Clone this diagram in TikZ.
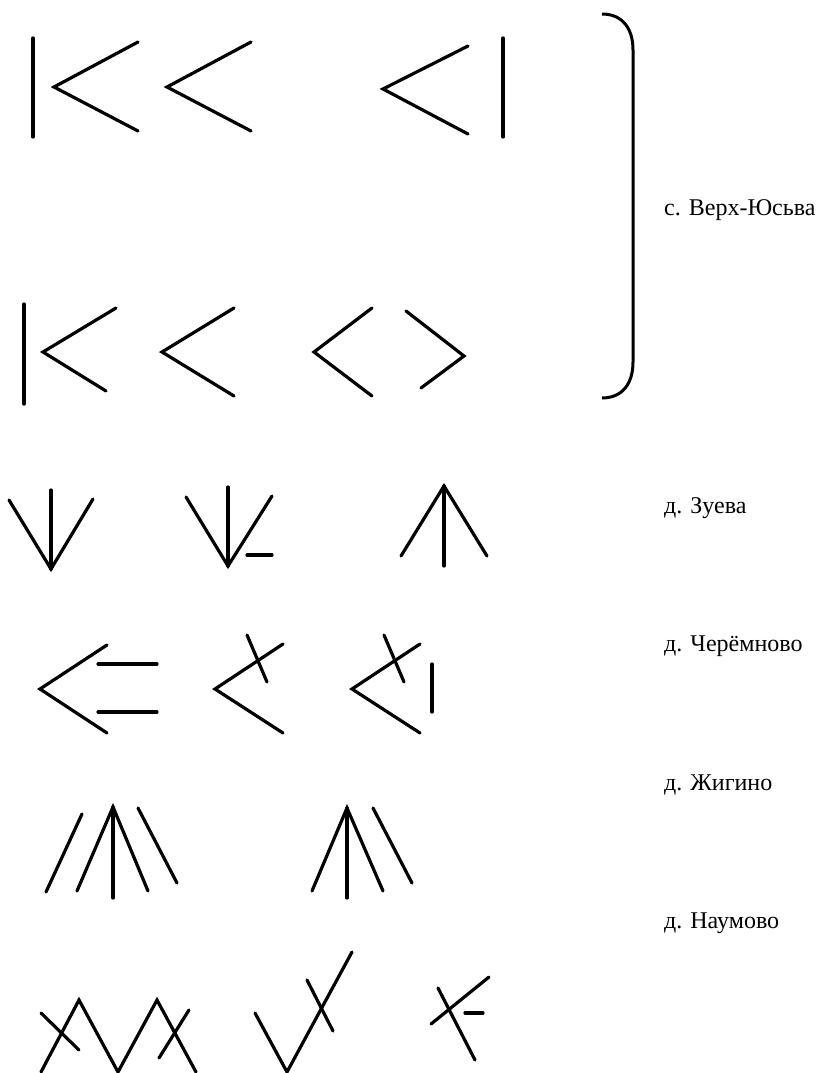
\documentclass[tikz,border=0pt]{standalone}
\usepackage{fontspec}
\setmainfont{Liberation Serif}
\begin{document}
\begin{tikzpicture}[x=1pt,y=-1pt,
  sign/.style={line width=3.2pt,line cap=round,line join=miter},
  place/.style={anchor=base west,inner sep=0pt,font=\fontsize{24}{28}\selectfont}]
\useasboundingbox (0,0) rectangle (816,1073);

% --- с. Верх-Юсьва, upper row
\draw[sign] (33,38) -- (33,137);
\draw[sign] (138,42) -- (54,87) -- (138,131);
\draw[sign] (251,42) -- (167,87) -- (251,131);
\draw[sign] (468,46) -- (383,89) -- (468,134);
\draw[sign] (503,38) -- (503,137);

% --- с. Верх-Юсьва, lower row
\draw[sign] (24,304) -- (24,404);
\draw[sign] (116,308) -- (43,352) -- (106,391);
\draw[sign] (234,308) -- (162,352) -- (234,396);
\draw[sign] (372,308) -- (314,352) -- (372,396);
\draw[sign] (406,311) -- (464,356) -- (421,388);

% brace grouping both rows
\draw[line width=3pt] (602,14) .. controls (622,14) and (633,28) .. (633,50)
  -- (633,362) .. controls (633,384) and (622,398) .. (602,398);
\node[place] (verkh) at (664,215) {с. Верх-Юсьва};

% --- д. Зуева
\draw[sign] (9,500) -- (51,569) -- (93,499);
\draw[sign] (51,490) -- (51,569);
\draw[sign] (186,497) -- (228,566) -- (272,496);
\draw[sign] (228,487) -- (228,566);
\draw[sign] (247,555) -- (272,555);
\draw[sign] (401,556) -- (444,486) -- (487,556);
\draw[sign] (444,486) -- (444,566);
\node[place] (zueva) at (664,513) {д. Зуева};

% --- д. Черёмново
\draw[sign] (107,645) -- (40,689) -- (107,733);
\draw[sign] (98,664) -- (157,664);
\draw[sign] (98,712) -- (157,712);
\draw[sign] (283,644) -- (215,689) -- (283,733);
\draw[sign] (247,635) -- (267,682);
\draw[sign] (420,644) -- (352,689) -- (420,733);
\draw[sign] (384,635) -- (404,682);
\draw[sign] (432,664) -- (432,712);
\node[place] (cheremnovo) at (664,651) {д. Черёмново};

% --- д. Жигино
\draw[sign] (82,814) -- (46,892);
\draw[sign] (77,891) -- (113,807) -- (148,891);
\draw[sign] (113,807) -- (113,898);
\draw[sign] (138,808) -- (177,883);
\draw[sign] (312,891) -- (347,808) -- (383,891);
\draw[sign] (347,808) -- (347,898);
\draw[sign] (373,808) -- (412,883);
\node[place] (zhigino) at (664,790) {д. Жигино};

% --- д. Наумово
\draw[sign] (41,1072) -- (79,1000) -- (118,1072) -- (157,1000) -- (196,1072);
\draw[sign] (41,1013) -- (79,1050);
\draw[sign] (189,1010) -- (159,1058);
\draw[sign] (255,1013) -- (287,1072) -- (352,952);
\draw[sign] (307,980) -- (333,1031);
\draw[sign] (431,1024) -- (489,977);
\draw[sign] (438,988) -- (475,1060);
\draw[sign] (465,1013) -- (483,1013);
\node[place] (naumovo) at (664,928) {д. Наумово};
\end{tikzpicture}
\end{document}
